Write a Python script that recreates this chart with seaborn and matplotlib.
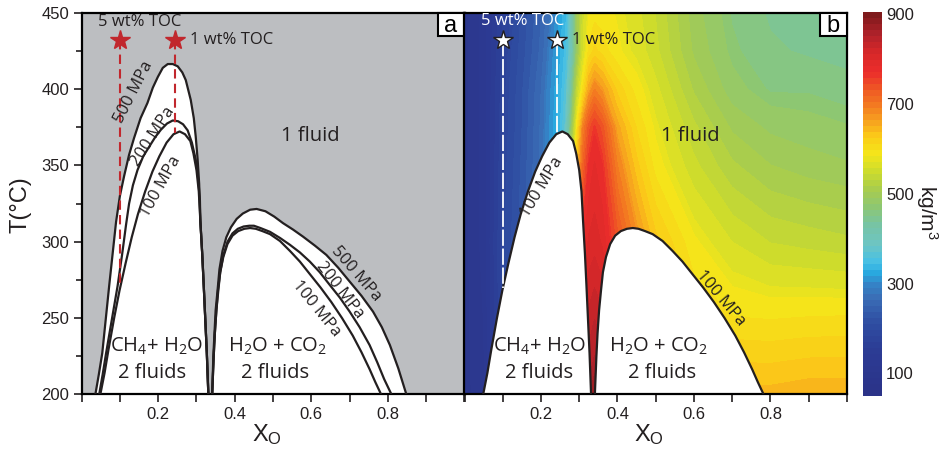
import numpy as np
import matplotlib
matplotlib.use("Agg")
import matplotlib.pyplot as plt
import seaborn as sns
from matplotlib.colors import LinearSegmentedColormap, Normalize
from matplotlib.cm import ScalarMappable
from matplotlib.patches import Rectangle
from matplotlib.ticker import MultipleLocator

# ---------------------------------------------------------------
# Solvus curves: X_O (composition) against T (°C)
# ---------------------------------------------------------------
ch4_500_x = [0.036, 0.045, 0.054, 0.063, 0.072, 0.081, 0.090, 0.100, 0.111, 0.124,
             0.137, 0.154, 0.172, 0.186, 0.199, 0.212, 0.225, 0.238, 0.251, 0.263,
             0.272, 0.285, 0.293, 0.298, 0.303, 0.307, 0.310, 0.315, 0.319, 0.323,
             0.327, 0.331]
ch4_500_t = [200, 213, 227, 249, 271, 292, 313, 330, 343, 357,
             368, 381, 391, 401, 408, 414, 416.5, 416.5, 415, 411,
             406, 393, 381, 369, 354, 338, 314, 292, 271, 249,
             227, 200]

ch4_200_x = [0.046, 0.055, 0.064, 0.079, 0.094, 0.106, 0.116, 0.124, 0.134, 0.146,
             0.161, 0.177, 0.192, 0.207, 0.223, 0.238, 0.252, 0.265, 0.277, 0.288,
             0.298, 0.305, 0.309, 0.310, 0.315, 0.319, 0.323, 0.327, 0.331]
ch4_200_t = [200, 213, 227, 249, 271, 292, 311, 325, 337, 347,
             356, 362.5, 368.5, 373.4, 377.5, 379.5, 379, 377, 373, 365,
             354, 340, 327, 314, 292, 271, 249, 227, 200]

ch4_100_x = [0.049, 0.060, 0.070, 0.085, 0.099, 0.115, 0.131, 0.147, 0.166, 0.185,
             0.203, 0.222, 0.240, 0.256, 0.270, 0.284, 0.292, 0.300, 0.306, 0.310,
             0.315, 0.319, 0.323, 0.327, 0.331]
ch4_100_t = [200, 214, 229, 250, 268, 286, 303, 318, 333, 346,
             356, 365, 370.5, 372.3, 370.5, 366, 358, 347, 333, 314,
             292, 271, 249, 227, 200]

co2_500_x = [0.341, 0.344, 0.347, 0.350, 0.355, 0.360, 0.368, 0.378, 0.390, 0.405,
             0.421, 0.440, 0.457, 0.480, 0.503, 0.526, 0.552, 0.578, 0.609, 0.639,
             0.670, 0.700, 0.731, 0.761, 0.784, 0.805, 0.827, 0.848]
co2_500_t = [200, 225, 240, 255, 268, 282, 294, 303, 309.5, 315,
             318.5, 321, 321.5, 320, 316.5, 312.2, 308, 303.4, 297.5, 291.4,
             283, 273.9, 264.5, 254.2, 244, 232.3, 217, 200]

co2_200_x = [0.341, 0.345, 0.348, 0.352, 0.356, 0.362, 0.370, 0.381, 0.394, 0.408,
             0.423, 0.438, 0.450, 0.467, 0.492, 0.518, 0.544, 0.570, 0.596, 0.622,
             0.648, 0.674, 0.700, 0.726, 0.752, 0.772, 0.790, 0.809]
co2_200_t = [200, 225, 240, 255, 268, 280, 291, 300, 305.5, 308.5,
             310, 310.5, 310.5, 309, 306.5, 302.5, 298, 293, 287, 280,
             271.7, 263.5, 254.2, 244, 232.3, 221, 210, 200]

co2_100_x = [0.341, 0.345, 0.348, 0.352, 0.357, 0.362, 0.370, 0.381, 0.394, 0.409,
             0.425, 0.440, 0.455, 0.472, 0.492, 0.518, 0.544, 0.570, 0.596, 0.624,
             0.652, 0.680, 0.708, 0.731, 0.752, 0.767, 0.782]
co2_100_t = [200, 225, 240, 255, 268, 280, 290, 298.5, 304, 307,
             308.5, 309, 308.5, 307, 305, 300.5, 294, 287, 278.8, 270,
             260.5, 250, 238.5, 227.5, 216.5, 208, 200]

# Bulk compositions for 5 and 1 wt% TOC
toc_labels = ["5 wt% TOC", "1 wt% TOC"]
toc_x = [0.100, 0.243]
toc_top = [432.5, 432.5]
toc_end = [270, 371]

# ---------------------------------------------------------------
# Fluid density at 100 MPa (kg/m3) on an X_O - T grid
# ---------------------------------------------------------------
dens_x = [0.00, 0.05, 0.10, 0.15, 0.20, 0.225, 0.25, 0.265, 0.28, 0.295, 0.31,
          0.325, 0.34, 0.36, 0.40, 0.45, 0.50, 0.60, 0.70, 0.80, 0.90, 1.00]
dens_t = [200, 250, 300, 350, 375, 400, 425, 450]
dens_200 = [95, 110, 190, 230, 275, 315, 380, 520, 680, 800, 840, 860, 870, 860, 810, 750, 690, 650, 645, 645, 650, 650]
dens_250 = [95, 115, 190, 230, 275, 315, 370, 500, 650, 770, 810, 830, 840, 830, 780, 720, 660, 610, 597, 595, 597, 598]
dens_300 = [95, 120, 190, 230, 275, 315, 360, 450, 600, 720, 780, 800, 805, 795, 740, 680, 630, 585, 560, 545, 540, 535]
dens_350 = [95, 120, 185, 225, 270, 310, 350, 400, 520, 640, 720, 770, 785, 770, 690, 630, 590, 550, 520, 503, 495, 490]
dens_375 = [95, 120, 182, 222, 268, 305, 342, 380, 480, 600, 690, 740, 765, 740, 660, 610, 578, 535, 500, 485, 480, 475]
dens_400 = [95, 120, 180, 220, 265, 300, 335, 365, 440, 540, 600, 660, 690, 670, 620, 590, 565, 515, 480, 465, 465, 460]
dens_425 = [95, 120, 175, 215, 255, 290, 328, 350, 400, 490, 560, 600, 615, 605, 585, 570, 550, 500, 470, 455, 450, 445]
dens_450 = [95, 120, 170, 210, 250, 280, 320, 340, 410, 500, 555, 580, 590, 588, 580, 565, 545, 495, 465, 450, 445, 440]
dens_ticks = [100, 300, 500, 700, 900]

# ---------------------------------------------------------------
# Style
# ---------------------------------------------------------------
sns.set_theme(style="ticks")
plt.rcParams["font.family"] = ["Liberation Sans", "DejaVu Sans"]
plt.rcParams["mathtext.fontset"] = "custom"
plt.rcParams["mathtext.rm"] = "Open Sans"
plt.rcParams["mathtext.it"] = "Open Sans:italic"
plt.rcParams["mathtext.bf"] = "Open Sans:bold"
plt.rcParams["mathtext.default"] = "regular"

INK = "#231f20"
GRAY = "#bcbec1"
TOC_RED = "#c1272d"
ANN = dict(family=["Open Sans", "DejaVu Sans"], color=INK)

cb_vals = [50, 150, 210, 265, 295, 322, 345, 385, 430, 470, 510, 548, 590,
           630, 665, 700, 735, 775, 820, 860, 905]
cb_cols = ["#2b3388", "#2c3c95", "#2f4ea2", "#3a6db6", "#3583c6", "#29a9e0",
           "#45c0e6", "#6dc5c4", "#77c4a4", "#8dc773", "#a8cc4e", "#cadb2e",
           "#f4e61a", "#fbcb18", "#f7a11f", "#f37a21", "#ef5a24", "#ec2d2b",
           "#d62829", "#b0222a", "#7f1a1c"]
vmin, vmax = 50, 905
cmap = LinearSegmentedColormap.from_list(
    "density", [((v - vmin) / (vmax - vmin), c) for v, c in zip(cb_vals, cb_cols)], N=64)
norm = Normalize(vmin=vmin, vmax=vmax)

fig = plt.figure(figsize=(9.4, 4.54), dpi=100)
axA = fig.add_axes([0.0868, 0.1315, 0.4074, 0.840])
axB = fig.add_axes([0.4941, 0.1315, 0.4069, 0.840])
cax = fig.add_axes([0.918, 0.128, 0.0202, 0.846])


def curve(ax, xs, ts, lw=1.6):
    sns.lineplot(x=xs, y=ts, ax=ax, sort=False, estimator=None, color=INK,
                 linewidth=lw, legend=False, zorder=3)


def style_axes(ax, left_labels):
    ax.set_xlim(0, 1)
    ax.set_ylim(200, 450)
    ax.set_xlabel("")
    ax.set_ylabel("")
    ax.set_xticks(np.arange(0, 1.01, 0.1))
    ax.set_xticklabels(["", "", "0.2", "", "0.4", "", "0.6", "", "0.8", "", ""])
    ax.tick_params(axis="x", direction="out", length=5.5, width=1.2, labelsize=12,
                   pad=4, color=INK, labelcolor=INK)
    if left_labels:
        ax.set_yticks([200, 250, 300, 350, 400, 450])
        ax.yaxis.set_minor_locator(MultipleLocator(25))
        ax.tick_params(axis="y", which="major", direction="out", length=6, width=1.2,
                       labelsize=12, pad=3, color=INK, labelcolor=INK)
        ax.tick_params(axis="y", which="minor", direction="out", length=4.5,
                       width=1.2, color=INK)
    else:
        ax.set_yticks([])
        ax.tick_params(axis="y", left=False, labelleft=False)
    for s in ax.spines.values():
        s.set_visible(True)
        s.set_linewidth(1.6)
        s.set_color("black")


def panel_tag(ax, letter):
    w, h = 0.0705, 0.0604
    ax.add_patch(Rectangle((1 - w, 1 - h), w, h, transform=ax.transAxes,
                           facecolor="white", edgecolor="black", linewidth=1.5,
                           zorder=8, clip_on=False))
    ax.text(1 - w / 2, 1 - h / 2 - 0.004, letter, transform=ax.transAxes,
            ha="center", va="center", fontsize=17, color="black", zorder=9,
            family=["Liberation Sans", "DejaVu Sans"])


# ---------------- Panel a: phase relations ----------------
axA.set_facecolor(GRAY)
axA.fill(ch4_500_x, ch4_500_t, color="white", zorder=1, lw=0)
axA.fill(co2_500_x, co2_500_t, color="white", zorder=1, lw=0)
for xs, ts in [(ch4_500_x, ch4_500_t), (ch4_200_x, ch4_200_t), (ch4_100_x, ch4_100_t),
               (co2_500_x, co2_500_t), (co2_200_x, co2_200_t), (co2_100_x, co2_100_t)]:
    curve(axA, xs, ts)

for x, t0, t1 in zip(toc_x, toc_top, toc_end):
    axA.plot([x, x], [t0, t1], color=TOC_RED, lw=1.5, dashes=(4.5, 2.5), zorder=4)
axA.plot(toc_x, toc_top, linestyle="none", marker="*", ms=15, color=TOC_RED,
         mec=TOC_RED, zorder=5)
axA.text(0.152, 444, toc_labels[0], fontsize=12, ha="center", va="center", zorder=6, **ANN)
axA.text(0.283, 432.5, toc_labels[1], fontsize=12, ha="left", va="center", zorder=6, **ANN)

for txt, x, t, rot in [("500 MPa", 0.137, 398, 63), ("200 MPa", 0.186, 369, 57),
                       ("100 MPa", 0.207, 336.2, 61), ("500 MPa", 0.716, 279, -49),
                       ("200 MPa", 0.674, 268, -52), ("100 MPa", 0.612, 256, -51)]:
    axA.text(x, t, txt, fontsize=12, rotation=rot, rotation_mode="anchor",
             ha="center", va="center", zorder=6, **ANN)

axA.text(0.596, 369, "1 fluid", fontsize=14.5, ha="center", va="center", zorder=6, **ANN)
axA.text(0.196, 231.2, "CH$_4$+ H$_2$O", fontsize=14.5, ha="center", va="center", zorder=6, **ANN)
axA.text(0.183, 213.8, "2 fluids", fontsize=14.5, ha="center", va="center", zorder=6, **ANN)
axA.text(0.513, 231.2, "H$_2$O + CO$_2$", fontsize=14.5, ha="center", va="center", zorder=6, **ANN)
axA.text(0.505, 213.8, "2 fluids", fontsize=14.5, ha="center", va="center", zorder=6, **ANN)
style_axes(axA, True)
panel_tag(axA, "a")

# ---------------- Panel b: density at 100 MPa ----------------
dens = np.array([dens_200, dens_250, dens_300, dens_350, dens_375,
                 dens_400, dens_425, dens_450])
axB.contourf(dens_x, dens_t, dens, levels=np.linspace(vmin, vmax, 120),
             cmap=cmap, norm=norm, zorder=0, antialiased=False)
axB.fill(ch4_100_x, ch4_100_t, color="white", zorder=2, lw=0)
axB.fill(co2_100_x, co2_100_t, color="white", zorder=2, lw=0)
curve(axB, ch4_100_x, ch4_100_t)
curve(axB, co2_100_x, co2_100_t)

for x, t0, t1 in zip(toc_x, toc_top, toc_end):
    axB.plot([x, x], [t0, t1], color="white", lw=1.3, dashes=(9, 1.5), zorder=4)
axB.plot(toc_x, toc_top, linestyle="none", marker="*", ms=15, mfc="white",
         mec=INK, mew=1.0, zorder=5)
axB.text(0.153, 445, toc_labels[0], fontsize=12, ha="center", va="center", zorder=6,
         family=["Open Sans", "DejaVu Sans"], color="white")
axB.text(0.282, 432.5, toc_labels[1], fontsize=12, ha="left", va="center", zorder=6, **ANN)

axB.text(0.2037, 335.8, "100 MPa", fontsize=12, rotation=59, rotation_mode="anchor",
         ha="center", va="center", zorder=6, **ANN)
axB.text(0.671, 263, "100 MPa", fontsize=12, rotation=-50, rotation_mode="anchor",
         ha="center", va="center", zorder=6, **ANN)
axB.text(0.59, 369, "1 fluid", fontsize=14.5, ha="center", va="center", zorder=6, **ANN)
axB.text(0.196, 231.2, "CH$_4$+ H$_2$O", fontsize=14.5, ha="center", va="center", zorder=6, **ANN)
axB.text(0.196, 213.8, "2 fluids", fontsize=14.5, ha="center", va="center", zorder=6, **ANN)
axB.text(0.508, 231.2, "H$_2$O + CO$_2$", fontsize=14.5, ha="center", va="center", zorder=6, **ANN)
axB.text(0.517, 213.8, "2 fluids", fontsize=14.5, ha="center", va="center", zorder=6, **ANN)
style_axes(axB, False)
panel_tag(axB, "b")

# ---------------- Colour bar ----------------
cbar = fig.colorbar(ScalarMappable(norm=norm, cmap=cmap), cax=cax)
cbar.set_ticks(dens_ticks)
cbar.outline.set_visible(False)
cax.tick_params(direction="in", length=3, width=0.8, color="#555555",
                left=True, right=False, labelright=True, labelleft=False,
                labelsize=12, pad=3, labelcolor=INK)
fig.text(927 / 940, (454 - 212) / 454, "kg/m$^3$", rotation=270, ha="center",
         va="center", fontsize=15, color=INK)

# ---------------- Axis titles ----------------
fig.text(20.5 / 940, (454 - 205) / 454, "T(°C)", rotation=90, ha="center",
         va="center", fontsize=17, color=INK)
fig.text(267 / 940, (454 - 435) / 454, "X$_{O}$", ha="center", va="center",
         fontsize=17, color=INK)
fig.text(649 / 940, (454 - 435) / 454, "X$_{O}$", ha="center", va="center",
         fontsize=17, color=INK)

fig.savefig("out.png", dpi=100)
